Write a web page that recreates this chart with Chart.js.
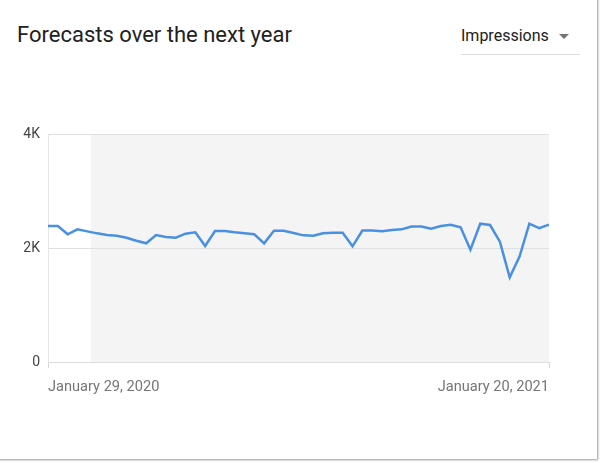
<!DOCTYPE html>
<html>
<head>
<meta charset="utf-8">
<script src="https://cdn.jsdelivr.net/npm/chart.js@4.4.0/dist/chart.umd.min.js"></script>
<style>
  html, body { margin: 0; padding: 0; background: #fff; }
  body { width: 600px; height: 463px; position: relative; overflow: hidden; font-family: Roboto, sans-serif; }
  .card { position: absolute; left: -4px; top: -4px; width: 601px; height: 463px; background: #fff;
          box-shadow: 1px 1px 2px rgba(0,0,0,0.4); }
  .title { position: absolute; left: 17px; top: 22px; font-size: 22px; color: #212121; }
  .select { position: absolute; left: 461px; top: 26px; width: 119px; height: 28px; border-bottom: 1px solid #ddd;
            font-size: 16px; color: #212121; }
  .select .arrow { position: absolute; left: 98px; top: 8px; width: 0; height: 0;
                   border-left: 5px solid transparent; border-right: 5px solid transparent; border-top: 5px solid #757575; }
  #chart { position: absolute; left: 0; top: 0; }
</style>
</head>
<body>
<div class="card"></div>
<div class="title">Forecasts over the next year</div>
<div class="select">Impressions<span class="arrow"></span></div>
<canvas id="chart" width="600" height="463"></canvas>
<script>
// weekly forecast, Jan 29 2020 -> Jan 20 2021
const startDate = Date.UTC(2020, 0, 29);
const weeks = 52;
const labels = [];
for (let i = 0; i < weeks; i++) {
    const d = new Date(startDate + i * 7 * 86400000);
    labels.push(d.toLocaleDateString('en-US', { month: 'long', day: 'numeric', year: 'numeric', timeZone: 'UTC' }));
}

const impressions = [
    2386, 2386, 2240, 2327, 2292, 2257, 2228, 2216, 2181, 2128,
    2082, 2228, 2193, 2181, 2251, 2275, 2035, 2298, 2298, 2275,
    2257, 2240, 2082, 2304, 2304, 2263, 2222, 2216, 2257, 2269,
    2269, 2030, 2307, 2307, 2295, 2316, 2327, 2377, 2377, 2339,
    2386, 2409, 2365, 1970, 2426, 2403, 2110, 1485, 1850, 2426,
    2348, 2409
];

const yTicks = [0, 2000, 4000];
// forecast band starts a bit after the 5th week
const forecastFrom = 4.35;

const shadePlugin = {
    id: 'shade',
    beforeDraw(chart) {
        const { ctx, chartArea, scales } = chart;
        const x0 = scales.x.getPixelForValue(forecastFrom);
        ctx.save();
        ctx.fillStyle = '#f4f4f4';
        ctx.fillRect(x0, chartArea.top, chartArea.right - x0, chartArea.bottom - chartArea.top);
        ctx.restore();
    }
};

Chart.defaults.font.family = 'Roboto, sans-serif';

const ctx = document.getElementById('chart').getContext('2d');
const myChart = new Chart(ctx, {
    type: 'line',
    data: {
        labels: labels,
        datasets: [{
            label: 'Impressions',
            data: impressions,
            borderColor: '#4a90e2',
            borderWidth: 2.5,
            pointRadius: 0,
            tension: 0,
            fill: false
        }]
    },
    options: {
        responsive: false,
        animation: false,
        layout: { padding: { left: 0, right: 51, top: 134, bottom: 0 } },
        plugins: { legend: { display: false }, tooltip: { enabled: false } },
        scales: {
            x: {
                afterFit(scale) { scale.height = 101; },
                afterBuildTicks(scale) {
                    const t = scale.ticks;
                    scale.ticks = [t[0], t[t.length - 1]];
                },
                grid: { display: true, drawOnChartArea: false, drawTicks: true, tickLength: 6, color: '#d6d6d6' },
                border: { display: true, color: '#dcdcdc' },
                ticks: {
                    autoSkip: false,
                    maxRotation: 0,
                    align: 'inner',
                    padding: 11,
                    color: '#757575',
                    font: { size: 14.6 }
                }
            },
            y: {
                min: 0,
                max: 4000,
                afterFit(scale) { scale.width = 48; },
                afterBuildTicks(scale) {
                    scale.ticks = yTicks.map(v => ({ value: v }));
                },
                grid: { color: '#e0e0e0', drawTicks: false },
                border: { display: true, color: '#e6e6e6' },
                ticks: {
                    padding: 8,
                    color: '#444',
                    font: { size: 14 },
                    callback: v => v === 0 ? '0' : (v / 1000) + 'K'
                }
            }
        }
    },
    plugins: [shadePlugin]
});
</script>
</body>
</html>
